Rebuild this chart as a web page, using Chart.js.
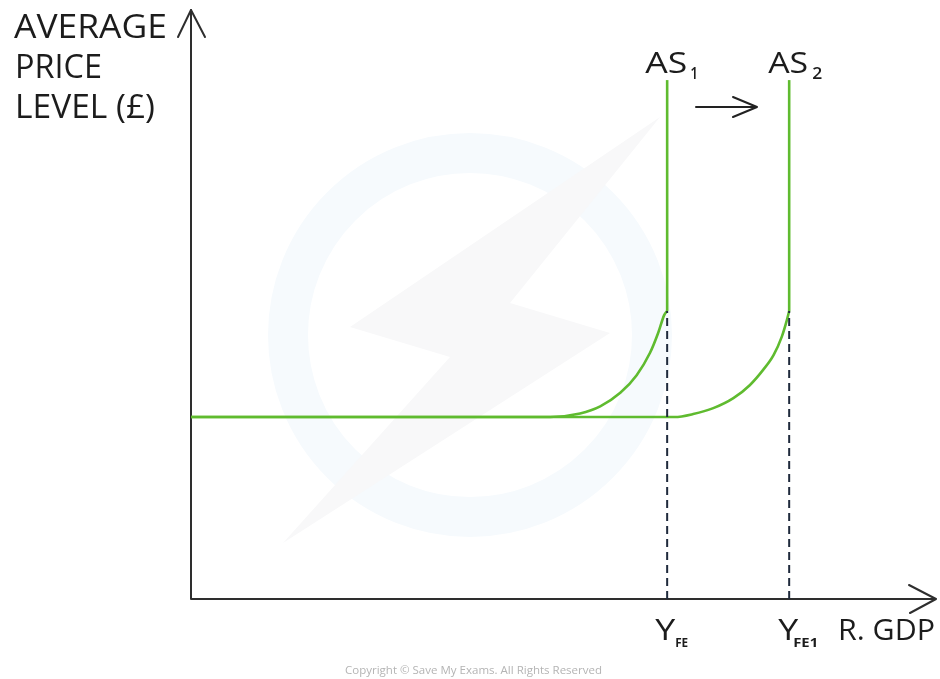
<!DOCTYPE html>
<html>
<head>
<meta charset="utf-8">
<script src="https://cdn.jsdelivr.net/npm/chart.js@4.4.1/dist/chart.umd.min.js"></script>
<style>
  html, body { margin: 0; padding: 0; background: #ffffff; }
  #wrap { width: 940px; height: 679px; }
</style>
</head>
<body>
<div id="wrap"><canvas id="c" width="940" height="679"></canvas></div>
<script>
const yAxisTitle = ["AVERAGE", "PRICE", "LEVEL (£)"];
const xAxisTitle = "R. GDP";
const curveNames = ["AS", "AS"];
const curveSubs = ["1", "2"];
const tickNames = ["Y", "Y"];
const tickSubs = ["FE", "FE1"];
const copyright = "Copyright © Save My Exams. All Rights Reserved";

// AS1: flat then curving up to full-employment output
const as1CurveX = [0, 48.3, 52.3, 55.0, 57.7, 59.9, 61.7, 62.8, 63.6, 64.0];
const as1CurveY = [30.9, 30.9, 31.5, 32.7, 35.0, 38.0, 41.8, 45.2, 48.2, 48.9];
const as1VertX = [64.0, 64.0];
const as1VertY = [48.9, 88.1];

// AS2: shifted right
const as2CurveX = [0, 65.0, 67.5, 70.2, 72.9, 75.1, 76.9, 78.3, 79.4, 80.1, 80.4];
const as2CurveY = [30.9, 30.9, 31.4, 32.4, 34.1, 36.3, 38.9, 41.4, 44.5, 47.4, 48.9];
const as2VertX = [80.4, 80.4];
const as2VertY = [48.9, 88.1];

// Dashed drop lines to the x-axis
const drop1X = [64.0, 64.0];
const drop1Y = [0, 48.9];
const drop2X = [80.4, 80.4];
const drop2Y = [0, 48.9];

const xMin = 0, xMax = 100, yMin = 0, yMax = 100;

function pts(xs, ys) { return xs.map((x, i) => ({ x: x, y: ys[i] })); }

const GREEN = '#5fbb2f';
const INK = '#1c1c1c';
const FONT = '"Open Sans", "DejaVu Sans", sans-serif';

function lineDs(data, opts) {
  return Object.assign({
    data: data, showLine: true, pointRadius: 0, borderColor: GREEN,
    borderWidth: 2.6, fill: false, tension: 0
  }, opts || {});
}

function fitText(ctx, text, x, baseline, width, size, weight, color) {
  ctx.save();
  ctx.font = (weight || '400') + ' ' + size + 'px ' + FONT;
  ctx.fillStyle = color || INK;
  ctx.textBaseline = 'alphabetic';
  ctx.textAlign = 'left';
  const m = ctx.measureText(text).width;
  ctx.translate(x, baseline);
  ctx.scale(width / m, 1);
  ctx.fillText(text, 0, 0);
  ctx.restore();
}

const decor = {
  id: 'decor',
  beforeDatasetsDraw(chart) {
    const ctx = chart.ctx;
    const xs = chart.scales.x, ys = chart.scales.y;
    // very faint watermark
    ctx.save();
    ctx.strokeStyle = '#f6fafd';
    ctx.lineWidth = 40;
    ctx.beginPath();
    ctx.arc(470, 335, 182, 0, Math.PI * 2);
    ctx.stroke();
    ctx.fillStyle = '#f8f8f9';
    ctx.beginPath();
    ctx.moveTo(660, 117);
    ctx.lineTo(350, 327);
    ctx.lineTo(450, 357);
    ctx.lineTo(283, 543);
    ctx.lineTo(610, 333);
    ctx.lineTo(510, 303);
    ctx.closePath();
    ctx.fill();
    ctx.restore();

    // axes
    const x0 = xs.getPixelForValue(xMin), x1 = xs.getPixelForValue(xMax);
    const y0 = ys.getPixelForValue(yMin), y1 = ys.getPixelForValue(yMax);
    ctx.save();
    ctx.strokeStyle = '#2e2e2e';
    ctx.lineWidth = 2;
    ctx.lineCap = 'round';
    ctx.lineJoin = 'round';
    ctx.beginPath();
    ctx.moveTo(x0, y1);
    ctx.lineTo(x0, y0);
    ctx.lineTo(x1, y0);
    ctx.stroke();
    // y arrow head
    ctx.beginPath();
    ctx.moveTo(x0 - 13, y1 + 27);
    ctx.lineTo(x0, y1);
    ctx.lineTo(x0 + 14, y1 + 27);
    ctx.stroke();
    // x arrow head
    ctx.beginPath();
    ctx.moveTo(x1 - 26, y0 - 14);
    ctx.lineTo(x1 + 1, y0);
    ctx.lineTo(x1 - 25, y0 + 14);
    ctx.stroke();
    ctx.restore();
  },
  afterDatasetsDraw(chart) {
    const ctx = chart.ctx;
    const xs = chart.scales.x;
    // y-axis title
    fitText(ctx, yAxisTitle[0], 14, 38, 153, 32);
    fitText(ctx, yAxisTitle[1], 15, 78, 87, 32);
    fitText(ctx, yAxisTitle[2], 15, 118, 140, 32);
    // curve labels
    const ax1 = xs.getPixelForValue(as1VertX[0]);
    const ax2 = xs.getPixelForValue(as2VertX[0]);
    fitText(ctx, curveNames[0], ax1 - 22, 73, 42, 29);
    fitText(ctx, curveSubs[0], ax1 + 23, 79, 8, 17, '600');
    fitText(ctx, curveNames[1], ax2 - 21, 73, 40, 29);
    fitText(ctx, curveSubs[1], ax2 + 23, 79, 10, 17, '600');
    // shift arrow
    ctx.save();
    ctx.strokeStyle = '#222';
    ctx.lineWidth = 2;
    ctx.lineCap = 'round';
    ctx.lineJoin = 'round';
    ctx.beginPath();
    ctx.moveTo(696, 107);
    ctx.lineTo(757, 107);
    ctx.moveTo(733, 97);
    ctx.lineTo(757, 107);
    ctx.lineTo(733, 117);
    ctx.stroke();
    ctx.restore();
    // x tick labels
    const t1 = xs.getPixelForValue(drop1X[0]);
    const t2 = xs.getPixelForValue(drop2X[0]);
    fitText(ctx, tickNames[0], t1 - 12, 640, 20, 30);
    fitText(ctx, tickSubs[0], t1 + 8, 647, 13, 12, '700');
    fitText(ctx, tickNames[1], t2 - 11, 640, 20, 30);
    fitText(ctx, tickSubs[1], t2 + 4, 647, 25, 12, '700');
    fitText(ctx, xAxisTitle, 838, 640, 97, 30);
    // copyright
    fitText(ctx, copyright, 345, 674, 257, 11, '400', '#b4b4b4');
  }
};

new Chart(document.getElementById('c'), {
  type: 'scatter',
  data: {
    datasets: [
      lineDs(pts(drop1X, drop1Y), { borderColor: '#1f2a3c', borderWidth: 2, borderDash: [8, 5] }),
      lineDs(pts(drop2X, drop2Y), { borderColor: '#1f2a3c', borderWidth: 2, borderDash: [8, 5] }),
      lineDs(pts(as2CurveX, as2CurveY), { cubicInterpolationMode: 'monotone' }),
      lineDs(pts(as2VertX, as2VertY)),
      lineDs(pts(as1CurveX, as1CurveY), { cubicInterpolationMode: 'monotone' }),
      lineDs(pts(as1VertX, as1VertY))
    ]
  },
  options: {
    responsive: false,
    animation: false,
    layout: { padding: { left: 191, right: 5, top: 10, bottom: 80 } },
    plugins: { legend: { display: false }, tooltip: { enabled: false } },
    scales: {
      x: { type: 'linear', min: xMin, max: xMax, display: false },
      y: { type: 'linear', min: yMin, max: yMax, display: false }
    }
  },
  plugins: [decor]
});
</script>
</body>
</html>
